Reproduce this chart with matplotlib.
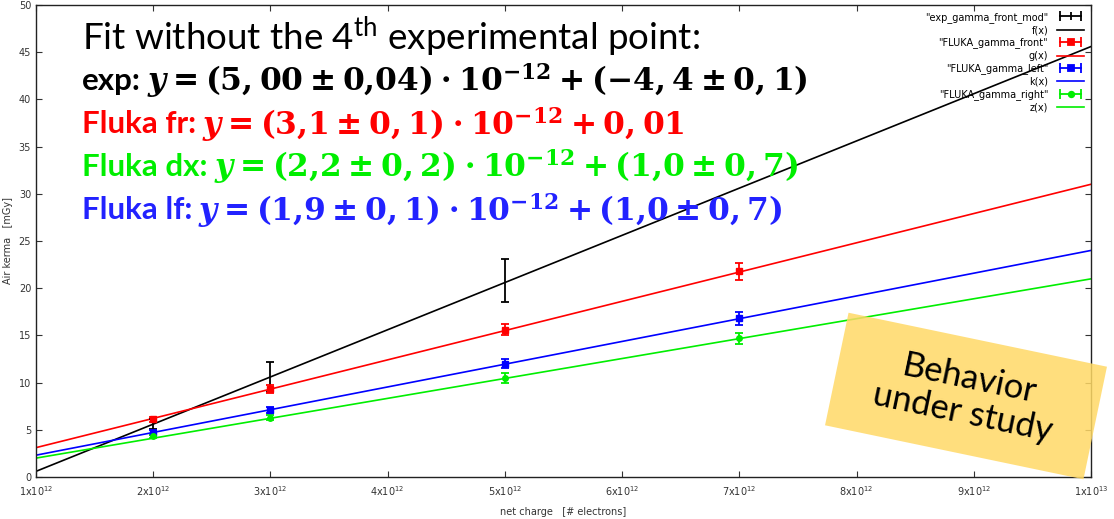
import numpy as np
import matplotlib
matplotlib.use("Agg")
import matplotlib.pyplot as plt
from matplotlib.patches import Polygon
from matplotlib.lines import Line2D
from matplotlib.legend_handler import HandlerLine2D, HandlerTuple

# ---------------- data ----------------
x_pts = [2e12, 3e12, 5e12, 7e12]

exp_x = [2e12, 3e12, 5e12]
exp_y = [5.6, 10.6, 20.8]
exp_err = [0.5, 1.6, 2.3]

front_y = [6.1, 9.3, 15.6, 21.8]
front_err = [0.3, 0.4, 0.6, 0.9]

left_y = [4.7, 7.1, 12.0, 16.8]
left_err = [0.3, 0.3, 0.5, 0.7]

right_y = [4.3, 6.3, 10.5, 14.7]
right_err = [0.2, 0.3, 0.5, 0.6]

# fitted lines (slope, intercept) as drawn
fit_names = ["f(x)", "g(x)", "k(x)", "z(x)"]
fit_slope = [5.0e-12, 3.1e-12, 2.41e-12, 2.11e-12]
fit_intercept = [-4.4, 0.01, -0.1, -0.11]
fit_range = [1e12, 1e13]

series_labels = ['"exp_gamma_front_mod"', '"FLUKA_gamma_front"',
                 '"FLUKA_gamma_left"', '"FLUKA_gamma_right"']
colors = ["black", "#ff0000", "#0000ff", "#00ee00"]

xticks = [1e12, 2e12, 3e12, 4e12, 5e12, 6e12, 7e12, 8e12, 9e12, 1e13]
xticklabels = [r"1x10$^{\mathsf{12}}$", r"2x10$^{\mathsf{12}}$", r"3x10$^{\mathsf{12}}$",
               r"4x10$^{\mathsf{12}}$", r"5x10$^{\mathsf{12}}$", r"6x10$^{\mathsf{12}}$",
               r"7x10$^{\mathsf{12}}$", r"8x10$^{\mathsf{12}}$", r"9x10$^{\mathsf{12}}$",
               r"1x10$^{\mathsf{13}}$"]
yticks = [0, 5, 10, 15, 20, 25, 30, 35, 40, 45, 50]

title_text = "Fit without the 4$^{\\mathregular{th}}$ experimental point:"
eq_labels = ["exp:", "Fluka fr:", "Fluka dx:", "Fluka lf:"]
eq_math = [r"$y = (5,00 \pm 0{,}04)\cdot 10^{-12} + (-4,4 \pm 0,1)$",
           r"$y = (3{,}1 \pm 0,1)\cdot 10^{-12} + 0,01$",
           r"$y = (2{,}2 \pm 0,2)\cdot 10^{-12} + (1{,}0 \pm 0,7)$",
           r"$y = (1{,}9 \pm 0,1)\cdot 10^{-12} + (1{,}0 \pm 0,7)$"]
eq_colors = ["black", "#ff0000", "#00ee00", "#2222ff"]

# ---------------- style ----------------
plt.rcParams["font.family"] = ["DejaVu Sans"]
plt.rcParams["mathtext.fontset"] = "custom"
plt.rcParams["mathtext.rm"] = "DejaVu Serif:bold"
plt.rcParams["mathtext.it"] = "DejaVu Serif:italic:bold"
plt.rcParams["mathtext.bf"] = "DejaVu Serif:bold"
plt.rcParams["mathtext.sf"] = "DejaVu Sans"

W, H = 1114, 519
fig = plt.figure(figsize=(W / 100, H / 100), dpi=100)
ax = fig.add_axes([36 / W, 1 - 477 / H, (1091 - 36) / W, (477 - 5) / H])

xx = np.array(fit_range)
handles = []
labels = []
hmap = {}

def leg_handle(color, marker, ms):
    caps = Line2D([], [], color=color, marker="|", ms=7, mew=1.3, lw=1.3)
    center = Line2D([], [], color=color, marker=marker, ms=ms, mew=1.3, ls="none")
    hmap[caps] = HandlerLine2D(numpoints=2)
    hmap[center] = HandlerLine2D(numpoints=1)
    return (caps, center)

# exp
ax.errorbar(exp_x, exp_y, yerr=exp_err, fmt="none", ecolor=colors[0],
            elinewidth=1.3, capsize=3, capthick=1.3, zorder=4)
ln, = ax.plot(xx, fit_slope[0] * xx + fit_intercept[0], color=colors[0], lw=1.2)
handles += [leg_handle(colors[0], "|", 6), ln]
labels += [series_labels[0], fit_names[0]]

markers = ["s", "s", "o"]
ys = [front_y, left_y, right_y]
errs = [front_err, left_err, right_err]
for i in range(3):
    ax.errorbar(x_pts, ys[i], yerr=errs[i], fmt=markers[i], color=colors[i + 1],
                ms=4, elinewidth=1.3, capsize=3, capthick=1.3, zorder=4)
    ln, = ax.plot(xx, fit_slope[i + 1] * xx + fit_intercept[i + 1],
                  color=colors[i + 1], lw=1.2)
    handles += [leg_handle(colors[i + 1], markers[i], 4), ln]
    labels += [series_labels[i + 1], fit_names[i + 1]]

ax.set_xlim(1e12, 1e13)
ax.set_ylim(0, 50)
ax.set_xticks(xticks)
ax.set_xticklabels(xticklabels)
ax.set_yticks(yticks)
ax.tick_params(direction="in", length=4, width=0.8, top=True, right=True,
               labelsize=7, colors="#333333", labelcolor="#333333")
ax.tick_params(axis="x", pad=6)
for s in ax.spines.values():
    s.set_linewidth(1.0)
    s.set_color("#222222")
ax.set_xlabel("net charge   [# electrons]", fontsize=7, color="#333333", labelpad=6)
ax.set_ylabel("Air kerma   [mGy]", fontsize=7, color="#333333", labelpad=4)
ax.yaxis.set_label_coords(-0.022, 0.5)

hmap_all = dict(hmap)
for h in handles:
    if isinstance(h, tuple):
        hmap_all[h] = HandlerTuple(ndivide=1, pad=0)
leg = ax.legend(handles, labels, loc="upper right", frameon=False, fontsize=7,
                markerfirst=False, handlelength=2.8, labelspacing=0.25,
                borderaxespad=0.3, handletextpad=0.9, handler_map=hmap_all)

# ---------------- annotation texts ----------------
fig.text(82 / W, 1 - 37 / H, title_text, fontsize=26.5, family="Lato",
         va="center", ha="left", color="black")

fig.canvas.draw()
renderer = fig.canvas.get_renderer()
row_y = [81, 124, 167, 210]
for lab, mth, col, yy in zip(eq_labels, eq_math, eq_colors, row_y):
    t = fig.text(82 / W, 1 - yy / H, lab, fontsize=22.5, family="Lato",
                 weight="bold", va="center", ha="left", color=col)
    bb = t.get_window_extent(renderer)
    fig.text((bb.x1 + 6) / W, 1 - yy / H, mth, fontsize=22.5, va="center",
             ha="left", color=col)

# ---------------- yellow note ----------------
cx, cy = 966, 396
bw, bh = 264, 115
ang = np.deg2rad(-11.8)
corners = np.array([[-bw / 2, bh / 2], [bw / 2, bh / 2],
                    [bw / 2, -bh / 2], [-bw / 2, -bh / 2]])
rot = np.array([[np.cos(ang), -np.sin(ang)], [np.sin(ang), np.cos(ang)]])
pts = corners @ rot.T
pts[:, 0] = (cx + pts[:, 0]) / W
pts[:, 1] = (H - cy + pts[:, 1]) / H
poly = Polygon(pts, closed=True, transform=fig.transFigure,
               facecolor="#ffd966", edgecolor="none", alpha=0.85, zorder=10)
fig.patches.append(poly)
fig.text(cx / W, 1 - cy / H, "Behavior\nunder study", fontsize=25,
         family="Lato", ha="center", va="center", rotation=-11.8,
         rotation_mode="anchor", linespacing=1.1, zorder=11, color="black")

fig.savefig("out.png", dpi=100)
